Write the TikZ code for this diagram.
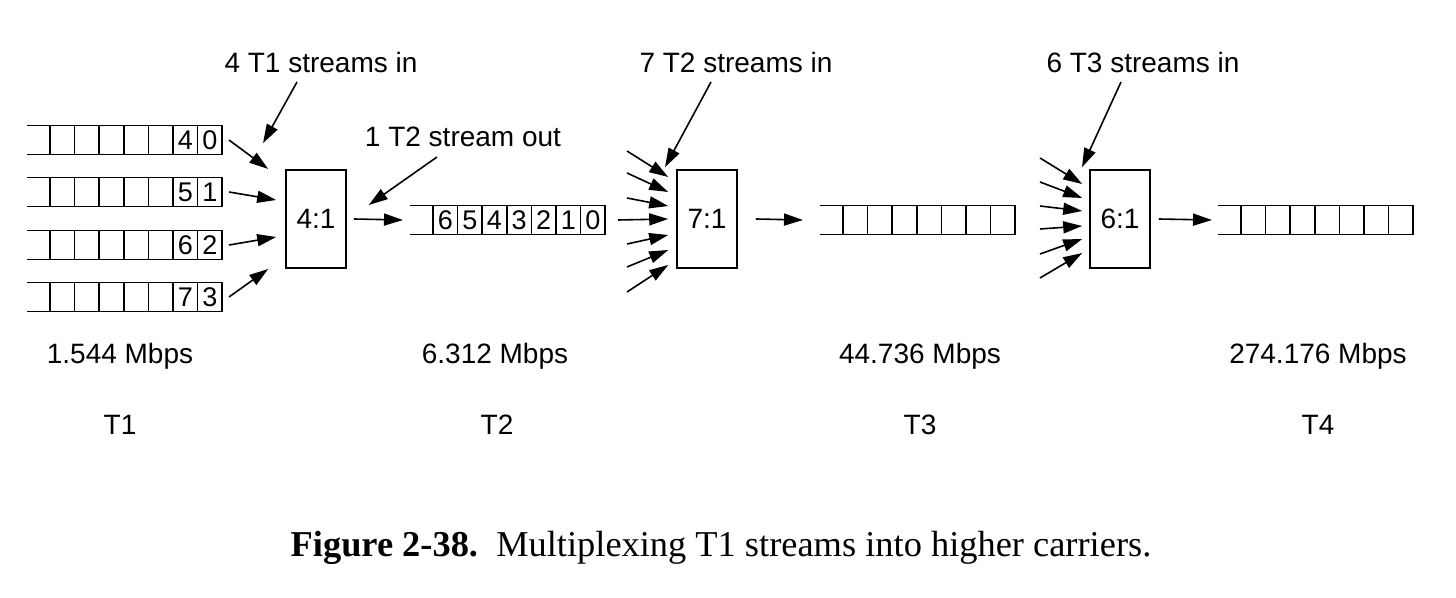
\documentclass[tikz,border=0pt]{standalone}
\usepackage{fontspec}
\setmainfont{Liberation Serif}
\setsansfont{Liberation Sans}
\usetikzlibrary{arrows.meta,positioning}

\tikzstyle{mux}=[draw,line width=.8pt,minimum width=30pt,minimum height=49pt,inner sep=0pt,font=\sffamily\fontsize{14}{16}\selectfont]
\tikzstyle{slot}=[draw,line width=.8pt,minimum width=12.3pt,minimum height=14.5pt,inner sep=0pt,font=\sffamily\fontsize{13.5}{14}\selectfont]
\tikzstyle{texto}=[font=\sffamily\fontsize{14}{16}\selectfont,anchor=base,inner sep=0pt]
\tikzstyle{flow}=[-{Triangle[length=9.5pt,width=6pt]},line width=.8pt]

\newcommand{\tqueue}[4]{%
  \coordinate (#1-in) at (#2,#3);
  \draw[line width=.8pt] (#2,#3-14.5) -- (#2+23,#3-14.5) (#2,#3+14.5) -- (#2+23,#3+14.5);
  \foreach \lab [count=\i] in {#4}
    \node[slot] (#1-\i) at (#2+23+\i*24.6-12.3,#3) {\lab};
}

\begin{document}
\begin{tikzpicture}[x=0.5pt,y=-0.5pt]
  \useasboundingbox (0,0) rectangle (1456,598);

  \begin{scope}

    \tqueue{r1}{27}{140}{{},{},{},{},{},4,0}
    \tqueue{r2}{27}{192}{{},{},{},{},{},5,1}
    \tqueue{r3}{27}{245}{{},{},{},{},{},6,2}
    \tqueue{r4}{27}{297}{{},{},{},{},{},7,3}

    \node [mux] (m1) at (316,219) {4:1};
    \node [mux] (m2) at (707,219) {7:1};
    \node [mux] (m3) at (1120,219) {6:1};

    \tqueue{t2}{410}{220}{6,5,4,3,2,1,0}
    \tqueue{t3}{820}{220}{{},{},{},{},{},{},{}}
    \tqueue{t4}{1218}{220}{{},{},{},{},{},{},{}}

    \foreach \r/\dx/\dy in {1/-17/-50,2/-9/-19,3/-9/18,4/-17/50}
      \draw [flow] ([xshift=3pt]r\r-7.east) -- ([shift={(\dx,\dy)}]m1.west);

    \node [texto] (l1) at (321,73) {4 T1 streams in};
    \draw [flow] ([shift={(-24,9)}]l1.base) -- ([shift={(-53,-26)}]m1.north);

    \node [texto] (l2) at (463,147) {1 T2 stream out};
    \draw [flow] ([shift={(-26,10)}]l2.base) -- ([shift={(22,-14)}]m1.east);

    \draw [flow] ([xshift=3.5pt]m1.east) -- ([xshift=-3.5pt]t2-in);

    \foreach \s/\dy [count=\k] in {151/-42,173/-27,198/-13,244/16,267/31,292/46} {
      \coordinate (a\k) at (627,\s);
      \draw [flow] (a\k) -- ([shift={(-8,\dy)}]m2.west);
    }
    \draw [flow] ([xshift=6pt]t2-7.east) -- ([xshift=-4pt]m2.west);

    \node [texto] (l3) at (736,73) {7 T2 streams in};
    \draw [flow] ([shift={(-25,9)}]l3.base) -- ([shift={(-42,-2)}]m2.north);

    \draw [flow] ([xshift=9pt]m2.east) -- ([xshift=-8.5pt]t3-in);

    \foreach \s/\dy [count=\k] in {158/-35,182/-21,206/-8,229/7,254/20,278/34} {
      \coordinate (b\k) at (1040,\s);
      \draw [flow] (b\k) -- ([shift={(-7,\dy)}]m3.west);
    }

    \node [texto] (l4) at (1143,73) {6 T3 streams in};
    \draw [flow] ([shift={(-22,9)}]l4.base) -- ([shift={(-38,-2)}]m3.north);

    \draw [flow] ([xshift=4pt]m3.east) -- ([xshift=-3pt]t4-in);

    \node [texto] (v1) at (120,364) {1.544 Mbps};
    \node [texto] (v2) at (495,364) {6.312 Mbps};
    \node [texto] (v3) at (920,364) {44.736 Mbps};
    \node [texto] (v4) at (1318,364) {274.176 Mbps};

    \node [texto] (n1) at (120,435) {T1};
    \node [texto] (n2) at (497,435) {T2};
    \node [texto] (n3) at (920,435) {T3};
    \node [texto] (n4) at (1318,435) {T4};

    \node [anchor=base,inner sep=0pt,font=\fontsize{18.2}{20}\selectfont] (cap) at (721,556)
      {\textbf{Figure 2-38.}\hspace{0.5em}Multiplexing T1 streams into higher carriers.};
  \end{scope}

\end{tikzpicture}
\end{document}
